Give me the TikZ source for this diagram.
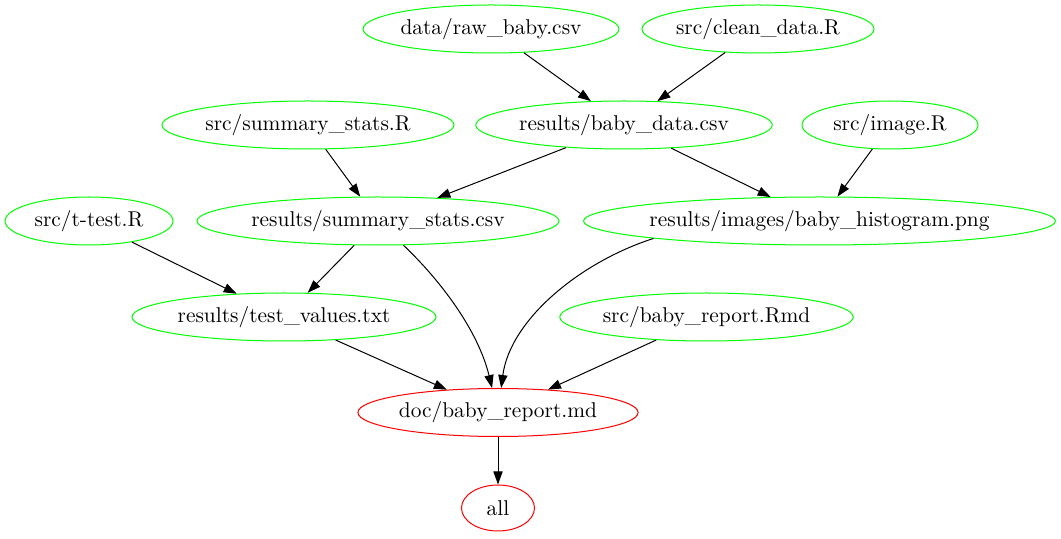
\documentclass[tikz,border=0pt]{standalone}
\usetikzlibrary{shapes.geometric, arrows.meta}
\begin{document}
\begin{tikzpicture}[x=0.5pt, y=-0.5pt, font=\fontsize{10.7}{13}\selectfont,
		file/.style={ellipse, draw=green, line width=0.5pt, inner sep=0pt, minimum height=24pt},
		goal/.style={ellipse, draw=red, line width=0.5pt, inner sep=0pt, minimum height=24pt},
		dep/.style={-{Triangle[length=6.5pt, width=4.6pt]}, line width=0.5pt}]
	\useasboundingbox (0, 0) rectangle (1061, 539) ;

	\node[file, minimum width=127pt] (rawbaby) at (491, 29) {data/raw\_baby.csv} ;
	\node[file, minimum width=116pt] (cleandata) at (758, 29) {src/clean\_data.R} ;
	\node[file, minimum width=146pt] (sumstatsR) at (308, 125) {src/summary\_stats.R} ;
	\node[file, minimum width=148pt] (babydata) at (624, 125) {results/baby\_data.csv} ;
	\node[file, minimum width=88pt] (imageR) at (890, 125) {src/image.R} ;
	\node[file, minimum width=84pt] (ttest) at (89, 221) {src/t-test.R} ;
	\node[file, minimum width=181pt] (sumstats) at (378, 221) {results/summary\_stats.csv} ;
	\node[file, minimum width=236pt, inner xsep=-8pt] (histogram) at (819.5, 221) {results/images/baby\_histogram.png} ;
	\node[file, minimum width=152pt] (testvalues) at (284, 317) {results/test\_values.txt} ;
	\node[file, minimum width=146pt] (reportRmd) at (706.5, 317) {src/baby\_report.Rmd} ;
	\node[goal, minimum width=140pt] (reportmd) at (498, 412.5) {doc/baby\_report.md} ;
	\node[goal, minimum width=36.5pt, minimum height=23pt] (all) at (498, 508) {all} ;

	\draw[dep] (rawbaby) -- (babydata) ;
	\draw[dep] (cleandata) -- (babydata) ;
	\draw[dep] (sumstatsR) -- (sumstats) ;
	\draw[dep] (babydata) -- (sumstats) ;
	\draw[dep] (babydata) -- (histogram) ;
	\draw[dep] (imageR) -- (histogram) ;
	\draw[dep] (ttest) -- (testvalues) ;
	\draw[dep] (sumstats) -- (testvalues) ;
	\draw[dep] (sumstats) .. controls (440, 280) and (478, 330) .. (reportmd) ;
	\draw[dep] (histogram.186) .. controls (580, 262) and (510, 320) .. (reportmd) ;
	\draw[dep] (testvalues) -- (reportmd) ;
	\draw[dep] (reportRmd) -- (reportmd) ;
	\draw[dep] (reportmd) -- (all) ;
\end{tikzpicture}
\end{document}
